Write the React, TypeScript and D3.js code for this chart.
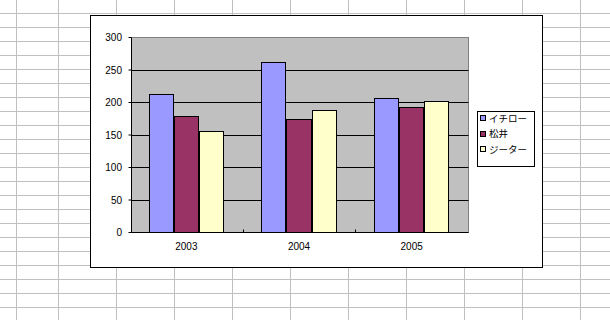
import React from "react";
import * as d3 from "d3";

const categories = ["2003", "2004", "2005"];
const seriesNames = ["イチロー", "松井", "ジーター"];
const ichiro = [212, 262, 206];
const matsui = [179, 174, 192];
const jeter = [156, 188, 202];
const seriesValues = [ichiro, matsui, jeter];
const seriesColors = ["#9999FF", "#993366", "#FFFFCC"];
const yTicks = [0, 50, 100, 150, 200, 250, 300];

const W = 610;
const H = 320;

export default function App() {
  const plotL = 131.5, plotR = 468.5, plotT = 37.5, plotB = 232.5;
  const y = d3.scaleLinear().domain([0, 300]).range([plotB, plotT]);
  const x = d3.scaleBand<string>().domain(categories).range([130, 468]).padding(0);
  const bw = x.bandwidth() / 4.5;

  // spreadsheet background grid
  const colLines = [16, 58];
  for (let c = 116; c < W; c += 58) colLines.push(c);
  const rowLines: number[] = [];
  for (let r = 13; r < H; r += 14) rowLines.push(r);

  const digitFont = "'Liberation Sans', Arial, sans-serif";
  const cjkFont = "'Noto Sans CJK JP', sans-serif";

  return (
    <svg width={W} height={H} style={{ position: "fixed", left: 0, top: 0, background: "#fff" }}>
      <rect x={0} y={0} width={W} height={H} fill="#fff" />
      {colLines.map((c) => (
        <line key={"c" + c} x1={c + 0.5} x2={c + 0.5} y1={0} y2={H} stroke="#c0c0c0" strokeWidth={1} />
      ))}
      {rowLines.map((r) => (
        <line key={"r" + r} x1={0} x2={W} y1={r + 0.5} y2={r + 0.5} stroke="#c0c0c0" strokeWidth={1} />
      ))}

      {/* chart area */}
      <rect x={90.5} y={15.5} width={452} height={252} fill="#fff" stroke="#000" strokeWidth={1} />

      {/* plot area */}
      <rect x={plotL} y={plotT} width={plotR - plotL} height={plotB - plotT} fill="#c0c0c0" stroke="#808080" strokeWidth={1} />

      {/* gridlines */}
      {yTicks.filter((t) => t > 0 && t < 300).map((t) => (
        <line key={"g" + t} x1={plotL} x2={plotR} y1={Math.round(y(t) - 0.5) + 0.5} y2={Math.round(y(t) - 0.5) + 0.5} stroke="#000" strokeWidth={1} />
      ))}

      {/* bars */}
      {categories.map((cat, ci) =>
        seriesValues.map((vals, si) => {
          const x0 = (x(cat) as number) + bw * 0.75 + si * bw;
          const xa = Math.round(x0);
          const xb = Math.round(x0 + bw);
          const yt = Math.round(y(vals[ci]) - 0.5) + 0.5;
          return (
            <rect
              key={cat + si}
              x={xa + 0.5}
              y={yt}
              width={xb - xa - 1}
              height={plotB - yt}
              fill={seriesColors[si]}
              stroke="#000"
              strokeWidth={1}
            />
          );
        })
      )}

      {/* axes */}
      <line x1={plotL} x2={plotL} y1={plotT} y2={plotB} stroke="#000" strokeWidth={1} />
      <line x1={plotL} x2={plotR} y1={plotB} y2={plotB} stroke="#000" strokeWidth={1} />
      {yTicks.map((t) => (
        <line key={"yt" + t} x1={plotL - 3} x2={plotL} y1={y(t)} y2={y(t)} stroke="#000" strokeWidth={1} />
      ))}
      {categories.slice(1).map((cat) => {
        const bx = Math.round(x(cat) as number) + 0.5;
        return <line key={"xt" + cat} x1={bx} x2={bx} y1={plotB - 3} y2={plotB} stroke="#000" strokeWidth={1} />;
      })}

      {/* y tick labels */}
      {yTicks.map((t) => (
        <text key={"yl" + t} x={122} y={y(t)} dy="0.35em" textAnchor="end" fontFamily={digitFont} fontSize={10} fill="#000">
          {t}
        </text>
      ))}

      {/* x labels */}
      {categories.map((cat) => (
        <text key={"xl" + cat} x={(x(cat) as number) + x.bandwidth() / 2} y={250} textAnchor="middle" fontFamily={digitFont} fontSize={10} fill="#000">
          {cat}
        </text>
      ))}

      {/* legend */}
      <rect x={477.5} y={111.5} width={57} height={55} fill="#fff" stroke="#000" strokeWidth={1} />
      {seriesNames.map((name, i) => {
        const cy = 118 + i * 15.5;
        return (
          <g key={name}>
            <rect x={480.5} y={Math.round(cy - 3) + 0.5} width={5} height={5} fill={seriesColors[i]} stroke="#000" strokeWidth={1} />
            <text x={489} y={cy + 0.5} dy="0.35em" fontFamily={cjkFont} fontSize={9.5} fill="#000">
              {name}
            </text>
          </g>
        );
      })}
    </svg>
  );
}
